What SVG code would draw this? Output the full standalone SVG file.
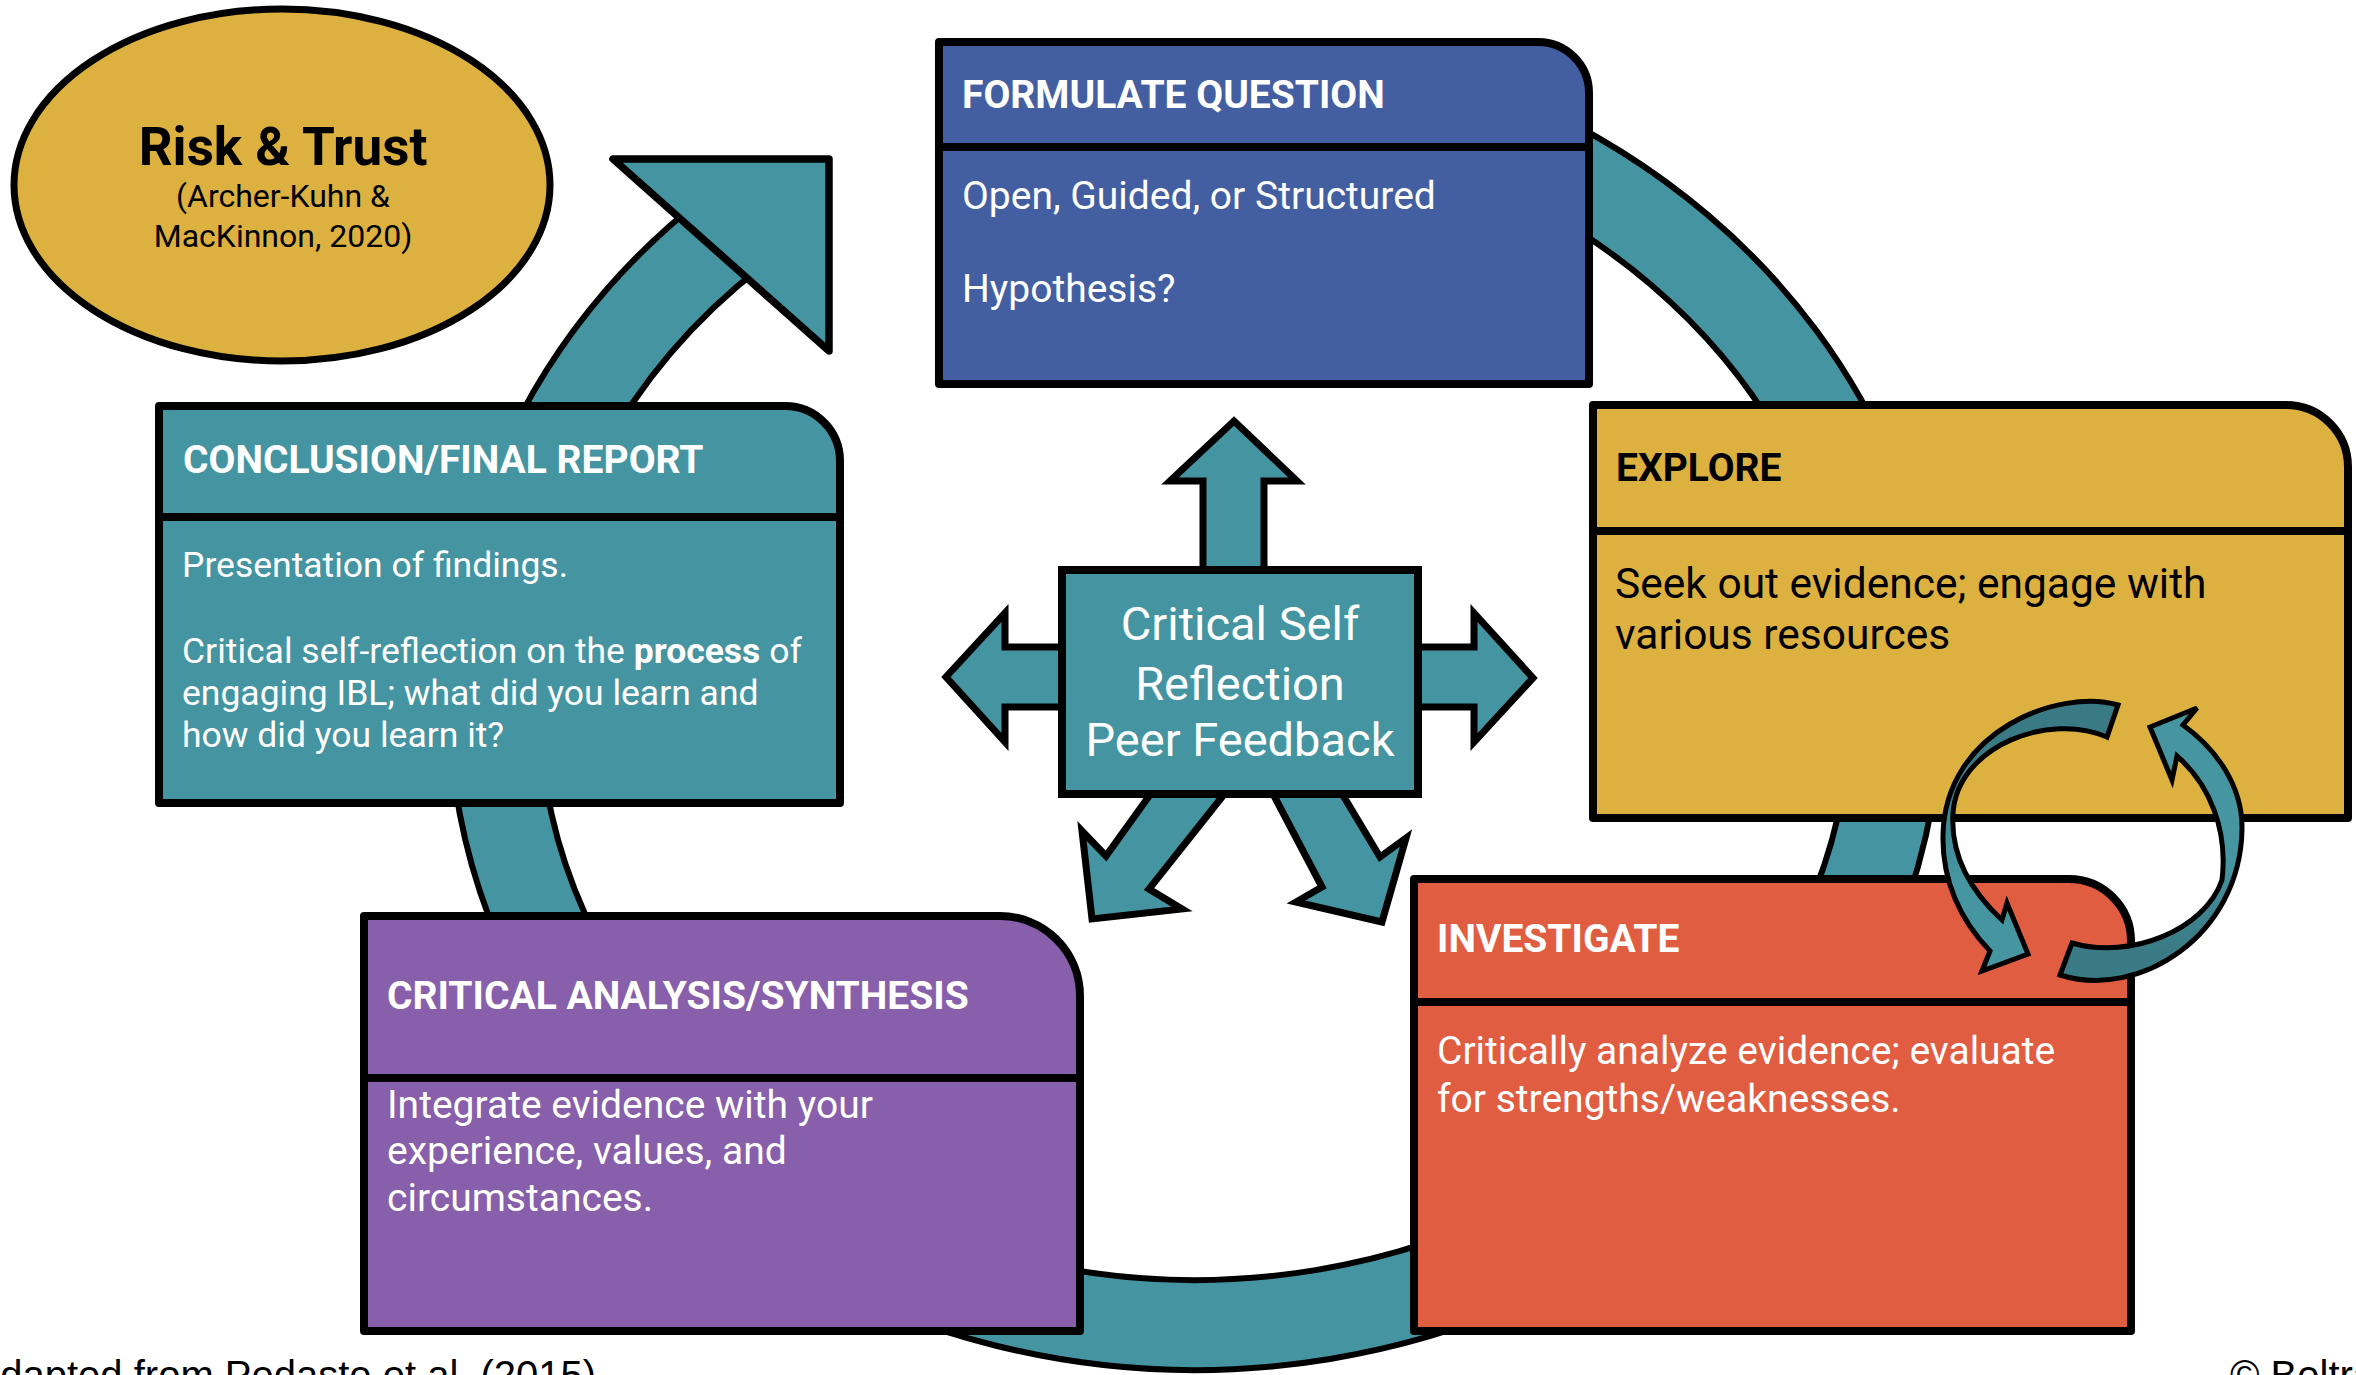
<svg xmlns="http://www.w3.org/2000/svg" width="2356" height="1375" viewBox="0 0 2356 1375">
  <defs>
    <style>
      .box { stroke: #000; stroke-width: 8; stroke-linejoin: round; }
      .div { stroke: #000; stroke-width: 8; }
      .hdr { font-family: Roboto, "Liberation Sans", sans-serif; font-weight: 700; font-size: 39px; }
      .body { font-family: Roboto, "Liberation Sans", sans-serif; font-weight: 400; font-size: 39px; }
      .small { font-size: 35.5px; }
      .large { font-size: 42.5px; }
      .w { fill: #FFFFFF; }
      .k { fill: #000000; }
      .carrow { fill: #4594A1; stroke: #000; stroke-width: 7; stroke-linejoin: miter; }
      .sarrow { stroke: #000; stroke-width: 5; stroke-linejoin: miter; }
      .foot { font-family: "Liberation Sans", Arial, sans-serif; font-size: 40px; fill: #000; }
    </style>
    <linearGradient id="g1" gradientUnits="userSpaceOnUse" x1="0" y1="740" x2="0" y2="880">
      <stop offset="0" stop-color="#3A7A84"/>
      <stop offset="0.45" stop-color="#3D8390"/>
      <stop offset="1" stop-color="#4696A2"/>
    </linearGradient>
    <linearGradient id="g2" gradientUnits="userSpaceOnUse" x1="0" y1="955" x2="0" y2="860">
      <stop offset="0" stop-color="#3A7A84"/>
      <stop offset="0.45" stop-color="#3D8390"/>
      <stop offset="1" stop-color="#4696A2"/>
    </linearGradient>
  </defs>

  <rect x="0" y="0" width="2356" height="1375" fill="#FFFFFF"/>

  <!-- connectors: big cycle ring and arrowhead -->
  <g id="connectors">
    <g id="cycle-ring">
      <path d="M1434.8,114.6 A701,624 0 1 1 735.1,230.1" fill="none" stroke="#000" stroke-width="96"/>
      <path d="M1434.8,114.6 A701,624 0 1 1 735.1,230.1" fill="none" stroke="#4594A1" stroke-width="84"/>
      <polygon points="613,159 829,159 829,351" fill="#4594A1" stroke="#000" stroke-width="7.5" stroke-linejoin="round"/>
    </g>
  </g>

  <!-- Risk & Trust -->
  <g id="risk-trust">
    <ellipse cx="282" cy="185" rx="268" ry="176" fill="#DDB13F" stroke="#000" stroke-width="7"/>
    <text x="283" y="165" text-anchor="middle" font-family="Roboto, 'Liberation Sans', sans-serif" font-weight="700" font-size="53" fill="#000">Risk &amp; Trust</text>
    <text x="283" y="207" text-anchor="middle" font-family="Roboto, 'Liberation Sans', sans-serif" font-size="32" fill="#000">(Archer-Kuhn &amp;</text>
    <text x="283" y="247" text-anchor="middle" font-family="Roboto, 'Liberation Sans', sans-serif" font-size="32" fill="#000">MacKinnon, 2020)</text>
  </g>

  <!-- Formulate Question -->
  <g id="formulate-question">
    <path class="box" d="M939,42 H1538 A51,51 0 0 1 1589,93 V384 H939 Z" fill="#435FA1"/>
    <line class="div" x1="939" y1="147" x2="1589" y2="147"/>
    <text class="hdr w" x="962" y="108">FORMULATE QUESTION</text>
    <text class="body w" x="962" y="209">Open, Guided, or Structured</text>
    <text class="body w" x="962" y="302">Hypothesis?</text>
  </g>

  <!-- Conclusion / Final report -->
  <g id="conclusion">
    <path class="box" d="M159,406 H785 A55,55 0 0 1 840,461 V803 H159 Z" fill="#4594A1"/>
    <line class="div" x1="159" y1="517" x2="840" y2="517"/>
    <text class="hdr w" x="183" y="473">CONCLUSION/FINAL REPORT</text>
    <text class="body small w" x="182" y="577">Presentation of findings.</text>
    <text class="body small w" x="182" y="663">Critical self-reflection on the <tspan font-weight="700">process</tspan> of</text>
    <text class="body small w" x="182" y="705">engaging IBL; what did you learn and</text>
    <text class="body small w" x="182" y="747">how did you learn it?</text>
  </g>

  <!-- Explore -->
  <g id="explore">
    <path class="box" d="M1593,405 H2286 A62,62 0 0 1 2348,467 V818 H1593 Z" fill="#DDB13F"/>
    <line class="div" x1="1593" y1="531" x2="2348" y2="531"/>
    <text class="hdr k" x="1616" y="481">EXPLORE</text>
    <text class="body large k" x="1615" y="598">Seek out evidence; engage with</text>
    <text class="body large k" x="1615" y="649">various resources</text>
  </g>

  <!-- Investigate -->
  <g id="investigate">
    <path class="box" d="M1414,879 H2069 A62,62 0 0 1 2131,941 V1331 H1414 Z" fill="#E05D42"/>
    <line class="div" x1="1414" y1="1002" x2="2131" y2="1002"/>
    <text class="hdr w" x="1437" y="952">INVESTIGATE</text>
    <text class="body w" x="1437" y="1064">Critically analyze evidence; evaluate</text>
    <text class="body w" x="1437" y="1112">for strengths/weaknesses.</text>
  </g>

  <!-- Critical analysis / synthesis -->
  <g id="critical-analysis">
    <path class="box" d="M364,916 H1000 A80,80 0 0 1 1080,996 V1331 H364 Z" fill="#875FAB"/>
    <line class="div" x1="364" y1="1078" x2="1080" y2="1078"/>
    <text class="hdr w" x="387" y="1009">CRITICAL ANALYSIS/SYNTHESIS</text>
    <text class="body w" x="387" y="1118">Integrate evidence with your</text>
    <text class="body w" x="387" y="1164">experience, values, and</text>
    <text class="body w" x="387" y="1211">circumstances.</text>
  </g>

  <!-- Centre: Critical self reflection with arrows -->
  <g id="critical-self-reflection">
    <path class="carrow" d="M1203,572 L1203,481 L1170,481 L1234,421 L1297,481 L1264,481 L1264,572 Z"/>
    <path class="carrow" d="M1066,647 L1005,647 L1005,613 L946,677 L1005,742 L1005,707 L1066,707 Z"/>
    <path class="carrow" d="M1414,647 L1474,647 L1474,613 L1533,678 L1474,742 L1474,707 L1414,707 Z"/>
    <path class="carrow" d="M1152,792 L1106,856 L1082,831 L1092,919 L1182,909 L1149,889 L1226,792 Z"/>
    <path class="carrow" d="M1272,792 L1322,887 L1296,902 L1382,922 L1406,838 L1380,857 L1341,792 Z"/>
    <rect x="1062" y="570" width="356" height="224" fill="#4594A1" stroke="#000" stroke-width="8"/>
    <text x="1240" y="640" text-anchor="middle" font-family="Roboto, 'Liberation Sans', sans-serif" font-size="47" fill="#FFFFFF">Critical Self</text>
    <text x="1240" y="700" text-anchor="middle" font-family="Roboto, 'Liberation Sans', sans-serif" font-size="47" fill="#FFFFFF">Reflection</text>
    <text x="1240" y="756" text-anchor="middle" font-family="Roboto, 'Liberation Sans', sans-serif" font-size="47" fill="#FFFFFF">Peer Feedback</text>
  </g>

  <!-- Small cycle arrows between Explore and Investigate -->
  <g id="explore-investigate-cycle">
    <path class="sarrow" fill="url(#g1)" d="M2118,705 C2060,688 1945,730 1943,835 C1942,880 1960,920 1990,951 L1982,971 L2028,954 L2007,903 L2002,920 C1975,895 1950,860 1953,813 C1958,745 2050,712 2107,737 Z"/>
    <path class="sarrow" fill="url(#g2)" d="M2060,975 C2140,1000 2240,935 2242,830 C2243,785 2215,748 2183,725 L2197,708 L2150,727 L2172,780 L2177,756 C2210,785 2228,830 2222,880 C2205,930 2130,960 2072,943 Z"/>
  </g>

  <!-- Footer -->
  <g id="footer">
    <text class="foot" x="-22" y="1389">adapted from Pedaste et al. (2015)</text>
    <text class="foot" x="2230" y="1389">© Beltra</text>
  </g>
</svg>
